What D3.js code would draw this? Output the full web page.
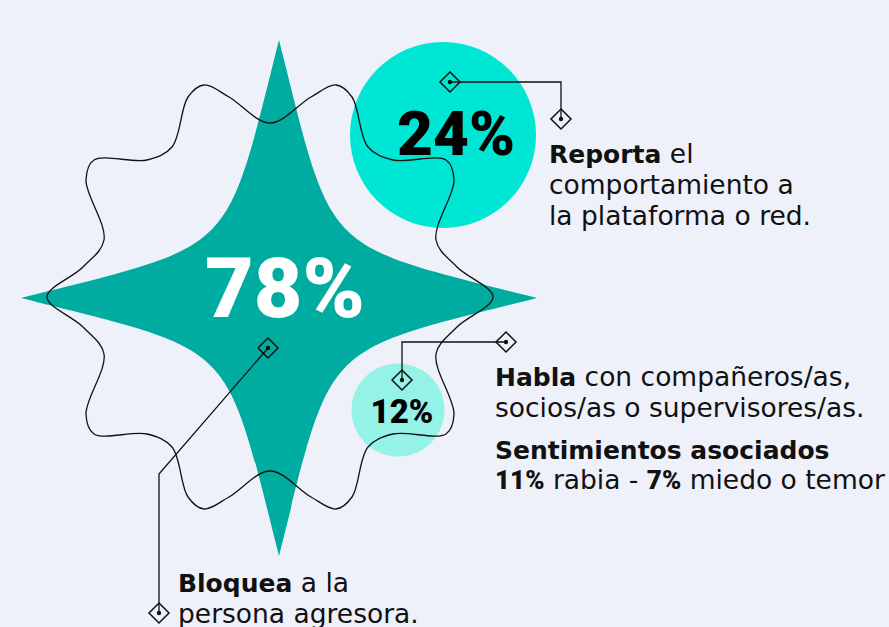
<!DOCTYPE html>
<html lang="es">
<head>
    <meta charset="utf-8">
    <script src="https://d3js.org/d3.v7.min.js"></script>
</head>
<style>
    body { margin: 0; background: #eef0fa; }
    svg { display: block; }
</style>
<body>
<script>
    const w = 889
    const h = 627

    // the numbers
    const pctValues = [78, 24, 12]
    const pctLabels = ["78%", "24%", "12%"]

    // what each number means (bold part, rest of first line, other lines)
    const actionVerbs = ["Bloquea", "Reporta", "Habla"]
    const actionFirst = [" a la", " el", " con compañeros/as,"]
    const actionMore = [
        ["persona agresora."],
        ["comportamiento a", "la plataforma o red."],
        ["socios/as o supervisores/as."]
    ]

    // feelings line
    const feelingTitle = "Sentimientos asociados"
    const feelingPcts = ["11%", "7%"]
    const feelingNames = ["rabia", "miedo o temor"]

    // one quarter of the wavy outline, relative to its centre (mirrored for the rest)
    const waveQuarter = [[0, -174], [41, -200], [66, -212], [82, -200], [98, -150], [123, -137],
                         [176, -137], [184, -117], [166, -57], [187, -30], [223, 0]]

    const bodyFont = "'DejaVu Sans', sans-serif"
    const numFont = "Roboto, 'Liberation Sans', sans-serif"

    let svg = d3.select("body")
        .append("svg")
        .attr("width", w)
        .attr("height", h)

    svg.append("rect")
        .attr("width", w)
        .attr("height", h)
        .attr("fill", "#eef0fa")

    // ---- the star (78%) ----
    const sx = 279, sy = 298, sr = 258
    let starScale = d3.scaleLinear().domain([0, 78]).range([0, sr])
    let R = starScale(pctValues[0])
    let a = R * 55 / 258, b = R * 40 / 258

    let star = d3.path()
    star.moveTo(sx, sy - R)
    star.bezierCurveTo(sx + a, sy - b, sx + b, sy - a, sx + R, sy)
    star.bezierCurveTo(sx + b, sy + a, sx + a, sy + b, sx, sy + R)
    star.bezierCurveTo(sx - a, sy + b, sx - b, sy + a, sx - R, sy)
    star.bezierCurveTo(sx - b, sy - a, sx - a, sy - b, sx, sy - R)
    star.closePath()

    svg.append("path")
        .attr("d", star.toString())
        .attr("fill", "#00ab9f")

    // ---- circles (24% and 12%) ----
    let rScale = d3.scaleLinear().domain([0, 24]).range([0, 93])
    const circles = [
        { v: pctValues[1], cx: 443, cy: 135, fill: "#00e6d4" },
        { v: pctValues[2], cx: 398, cy: 410, fill: "#95f2e6" }
    ]
    svg.selectAll("circle.bubble")
        .data(circles)
        .enter()
        .append("circle")
        .attr("class", "bubble")
        .attr("cx", d => d.cx)
        .attr("cy", d => d.cy)
        .attr("r", d => rScale(d.v))
        .attr("fill", d => d.fill)

    // ---- wavy outline ----
    const wx = 270, wy = 297
    let tr = waveQuarter
    let br = waveQuarter.slice(0, -1).reverse().map(([x, y]) => [x, -y])
    let bl = waveQuarter.slice(1).map(([x, y]) => [-x, -y])
    let tl = waveQuarter.slice(1, -1).reverse().map(([x, y]) => [-x, y])
    let wavePts = tr.concat(br, bl, tl).map(([x, y]) => [wx + x, wy + y])

    svg.append("path")
        .attr("d", d3.line().curve(d3.curveCatmullRomClosed.alpha(0.5))(wavePts))
        .attr("fill", "none")
        .attr("stroke", "#111")
        .attr("stroke-width", 1.3)

    // ---- connectors with diamonds ----
    const connectors = [
        [[450, 82], [561, 82], [561, 119]],
        [[506, 342], [402, 342], [402, 380]],
        [[268, 348], [159, 474], [159, 613]]
    ]
    let conn = svg.append("g")
    conn.selectAll("path.link")
        .data(connectors)
        .enter()
        .append("path")
        .attr("class", "link")
        .attr("d", d => d3.line()(d))
        .attr("fill", "none")
        .attr("stroke", "#111")
        .attr("stroke-width", 1.3)

    let ends = connectors.flatMap(c => [c[0], c[c.length - 1]])
    let dm = 10
    conn.selectAll("path.diamond")
        .data(ends)
        .enter()
        .append("path")
        .attr("class", "diamond")
        .attr("d", d => `M${d[0]},${d[1] - dm}L${d[0] + dm},${d[1]}L${d[0]},${d[1] + dm}L${d[0] - dm},${d[1]}Z`)
        .attr("fill", "none")
        .attr("stroke", "#111")
        .attr("stroke-width", 1.5)
    conn.selectAll("circle.dot")
        .data(ends)
        .enter()
        .append("circle")
        .attr("class", "dot")
        .attr("cx", d => d[0])
        .attr("cy", d => d[1])
        .attr("r", 2.2)
        .attr("fill", "#111")

    // ---- big numbers ----
    const numPos = [
        { x: 285, y: 317, size: 84, fill: "#ffffff" },
        { x: 456, y: 155, size: 62, fill: "#000000" },
        { x: 402, y: 423, size: 33, fill: "#000000" }
    ]
    svg.selectAll("text.num")
        .data(pctLabels)
        .enter()
        .append("text")
        .attr("class", "num")
        .attr("x", (d, i) => numPos[i].x)
        .attr("y", (d, i) => numPos[i].y)
        .attr("text-anchor", "middle")
        .attr("font-family", numFont)
        .attr("font-weight", 900)
        .attr("font-size", (d, i) => numPos[i].size + "px")
        .attr("fill", (d, i) => numPos[i].fill)
        .text(d => d)

    // ---- descriptions ----
    const descPos = [
        { x: 178, y: 592 },
        { x: 549, y: 163 },
        { x: 495, y: 386 }
    ]
    const lh = 31
    actionVerbs.forEach((verb, i) => {
        let t = svg.append("text")
            .attr("x", descPos[i].x)
            .attr("y", descPos[i].y)
            .attr("font-family", bodyFont)
            .attr("font-size", "26.5px")
            .attr("fill", "#111")
        t.append("tspan").attr("font-weight", 700).attr("font-size", "25px").text(verb)
        t.append("tspan").text(actionFirst[i])
        actionMore[i].forEach((line, j) => {
            t.append("tspan")
                .attr("x", descPos[i].x)
                .attr("y", descPos[i].y + lh * (j + 1))
                .text(line)
        })
    })

    svg.append("text")
        .attr("x", 495)
        .attr("y", 459)
        .attr("font-family", bodyFont)
        .attr("font-size", "25px")
        .attr("font-weight", 700)
        .attr("fill", "#111")
        .text(feelingTitle)

    let fl = svg.append("text")
        .attr("x", 495)
        .attr("y", 489)
        .attr("font-family", bodyFont)
        .attr("font-size", "26.5px")
        .attr("fill", "#111")
    fl.append("tspan").attr("font-family", numFont).attr("font-weight", 900).attr("font-size", "26px").text(feelingPcts[0])
    fl.append("tspan").text(" " + feelingNames[0] + " - ")
    fl.append("tspan").attr("font-family", numFont).attr("font-weight", 900).attr("font-size", "26px").text(feelingPcts[1])
    fl.append("tspan").text(" " + feelingNames[1])
</script>
</body>
</html>
